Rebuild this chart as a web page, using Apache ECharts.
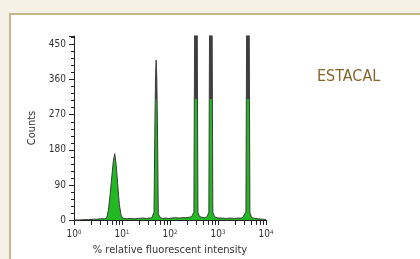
<!DOCTYPE html>
<html>
<head>
<meta charset="utf-8">
<script src="https://cdn.jsdelivr.net/npm/echarts@6/dist/echarts.min.js"></script>
<style>
html,body{margin:0;padding:0;width:420px;height:259px;overflow:hidden;background:#f5f1e6;}
#panel{position:absolute;left:9px;top:13px;width:430px;height:260px;background:#fff;border-left:2px solid #c6b68c;border-top:2px solid #c6b68c;}
#chart{position:absolute;left:0;top:0;width:420px;height:259px;}
</style>
</head>
<body>
<div id="panel"></div>
<div id="chart"></div>
<script>
// Relative fluorescent intensity (channel positions) and counts
const intensity = [1.0,1.3,1.6,2.0,2.5,3.0,3.6,4.3,4.8,5.2,5.6,6.12,6.58,7.06,7.59,8.15,8.8,9.5,10.2,11,12.5,15,18,22,27,33,38,42,46.5,48.5,50,51.5,53,54.7,57,63,70,80,95,110,130,155,180,210,250,280,300,315,331,347,364,382,410,460,520,590,645,676,709,744,780,850,1000,1200,1500,1800,2200,2700,3200,3500,3818,4004,4200,4406,4620,5000,6000,7000,8500,10000];
const counts    = [0,0,1,1,2,2,3,3,5,25,60,110,150,170,140,90,40,14,5,4,3,4,3,4,5,4,5,6,20,250,370,410,370,250,15,6,4,5,4,5,6,5,6,6,7,8,10,20,700,1200,700,20,9,7,6,8,20,700,1200,700,20,8,5,5,4,5,4,5,5,6,20,700,1200,700,20,6,4,3,2,1];
const yTicks = [0,90,180,270,360,450];
const xTickLabels = ['0','1','2','3','4'];
const title = 'ESTACAL';
const xTitle = '% relative fluorescent intensity';
const yTitle = 'Counts';
const greenLimit = 310;

const FONT = "'Liberation Sans Narrow','DejaVu Sans Condensed','Roboto',sans-serif";
const chart = echarts.init(document.getElementById('chart'), null, {renderer:'canvas'});
const seriesData = intensity.map((x,i)=>[x,counts[i]]);

function build(grad){
  return {
    animation:false,
    backgroundColor:'transparent',
    grid:{left:74,right:154,top:36,bottom:39,containLabel:false,outerBoundsMode:'none'},
    title:{text:title,left:312,top:64,textStyle:{fontFamily:FONT,fontSize:16,fontWeight:'normal',color:'#87652a'}},
    xAxis:{
      type:'log',logBase:10,min:1,max:10000,
      name:xTitle,nameLocation:'middle',nameGap:25,
      nameTextStyle:{fontFamily:FONT,fontSize:11,color:'#333'},
      axisLine:{show:true,onZero:false,lineStyle:{color:'#222',width:1}},
      axisTick:{show:true,inside:false,length:5,lineStyle:{color:'#222'}},
      minorTick:{show:true,splitNumber:7,length:5,lineStyle:{color:'#222'}},
      splitLine:{show:false},minorSplitLine:{show:false},
      axisLabel:{margin:9,fontFamily:FONT,fontSize:10,color:'#333',
        formatter:function(v){const k=Math.round(Math.log10(v));return '10{s|'+xTickLabels[k]+'}';},
        rich:{s:{fontSize:6,fontFamily:FONT,color:'#333',verticalAlign:'top',padding:[0,0,5,0]}}}
    },
    yAxis:{
      type:'value',min:yTicks[0],max:472,interval:yTicks[1]-yTicks[0],
      name:yTitle,nameLocation:'middle',nameGap:36,nameRotate:90,
      nameTextStyle:{fontFamily:FONT,fontSize:11,color:'#333'},
      axisLine:{show:true,lineStyle:{color:'#222',width:1}},
      axisTick:{show:true,length:5,lineStyle:{color:'#222'}},
      minorTick:{show:true,splitNumber:5,length:3,lineStyle:{color:'#222'}},
      splitLine:{show:false},
      axisLabel:{margin:8,fontFamily:FONT,fontSize:10,color:'#333',
        formatter:function(v){return yTicks.indexOf(v)>=0?String(v):'';}}
    },
    series:[{
      type:'line',data:seriesData,showSymbol:false,symbol:'none',smooth:false,clip:true,
      lineStyle:{color:'#3c3c3c',width:1},
      areaStyle:{color:grad||'#22b822',opacity:1}
    }]
  };
}
chart.setOption(build(null));
const yTop = chart.convertToPixel({yAxisIndex:0},472);
const yCut = chart.convertToPixel({yAxisIndex:0},greenLimit);
const yBot = chart.convertToPixel({yAxisIndex:0},0);
const f = (yCut-yTop)/(yBot-yTop);
const grad = new echarts.graphic.LinearGradient(0,yTop,0,yBot,[
  {offset:0,color:'#3f3f3f'},{offset:f,color:'#3f3f3f'},
  {offset:f,color:'#22b822'},{offset:1,color:'#22b822'}],true);
chart.setOption(build(grad));
</script>
</body>
</html>
